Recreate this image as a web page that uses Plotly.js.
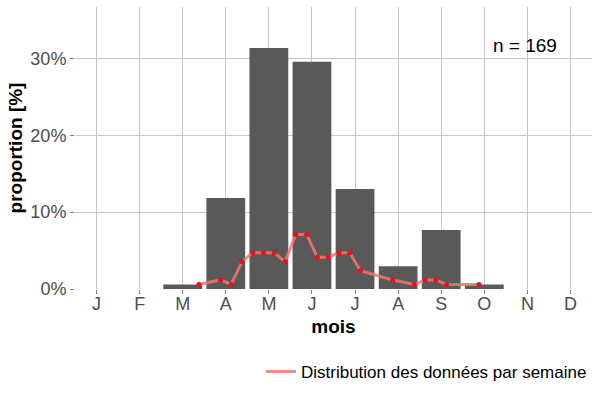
<!DOCTYPE html>
<html>
<head>
<meta charset="utf-8">
<script src="https://cdn.plot.ly/plotly-3.0.1.min.js"></script>
<style>
  body { margin: 0; }
  #chart { width: 600px; height: 400px; }
</style>
</head>
<body>
<div id="chart"></div>
<script>
// Monthly categories and their share of observations (%)
let months = ["J", "F", "M", "A", "M", "J", "J", "A", "S", "O", "N", "D"];
let monthPos = [1, 2, 3, 4, 5, 6, 7, 8, 9, 10, 11, 12];
let monthShare = [0, 0, 0.59, 11.83, 31.36, 29.59, 13.02, 2.96, 7.69, 0.59, 0, 0];

// Weekly distribution (week number, 4 weeks per month) and share (%)
let weeks = [12, 14, 15, 16, 17, 18, 19, 20, 21, 22, 23, 24, 25, 26, 27, 30, 32, 33, 34, 35, 38];
let weekShare = [0.59, 1.18, 0.59, 3.55, 4.73, 4.73, 4.73, 3.55, 7.10, 7.10, 4.14, 4.14,
                 4.73, 4.73, 2.37, 1.18, 0.59, 1.18, 1.18, 0.59, 0.59];

let nObs = 169;

// place each week inside its month on the month axis
let weekPos = weeks.map(w => 0.375 + w / 4);

let bars = {
    x: monthPos,
    y: monthShare,
    type: "bar",
    width: 0.9,
    marker: {color: "#595959"},
    showlegend: false,
    hoverinfo: "skip"
};

let weekLine = {
    x: weekPos,
    y: weekShare,
    type: "scatter",
    mode: "lines",
    name: "Distribution des données par semaine",
    line: {color: "rgba(242, 118, 110, 0.85)", width: 3}
};

let weekDots = {
    x: weekPos,
    y: weekShare,
    type: "scatter",
    mode: "markers",
    marker: {color: "#E8101C", size: 5},
    showlegend: false
};

let layout = {
    width: 600,
    height: 400,
    margin: {l: 75, r: 8, t: 7, b: 111, autoexpand: false},
    paper_bgcolor: "white",
    plot_bgcolor: "white",
    font: {family: "Liberation Sans, Arial, sans-serif", color: "#4D4D4D"},
    xaxis: {
        range: [0.5, 12.5],
        tickvals: monthPos,
        ticktext: months,
        tickfont: {size: 18, color: "#4D4D4D"},
        ticks: "outside",
        ticklen: 4,
        tickcolor: "#7F7F7F",
        ticklabelstandoff: -6,
        showgrid: true,
        gridcolor: "#C8C8C8",
        gridwidth: 1,
        zeroline: false,
        showline: false,
        title: {text: "<b>mois</b>", font: {size: 19, color: "black"}, standoff: 7}
    },
    yaxis: {
        range: [0, 36.7],
        tickvals: [0, 10, 20, 30],
        ticktext: ["0%", "10%", "20%", "30%"],
        tickfont: {size: 18, color: "#4D4D4D"},
        ticks: "outside",
        ticklen: 4,
        tickcolor: "#7F7F7F",
        showgrid: true,
        gridcolor: "#C8C8C8",
        gridwidth: 1,
        zeroline: false,
        showline: false,
        title: {text: "<b>proportion [%]</b>", font: {size: 19, color: "black"}, standoff: 2}
    },
    legend: {
        orientation: "h",
        x: 1,
        xanchor: "right",
        y: -0.294,
        yanchor: "middle",
        font: {size: 17, color: "black"},
        itemwidth: 30
    },
    annotations: [{
        x: 10.95,
        y: 31.75,
        xref: "x",
        yref: "y",
        text: "n = " + nObs,
        showarrow: false,
        font: {size: 19, color: "black"}
    }]
};

Plotly.newPlot("chart", [bars, weekLine, weekDots], layout, {displayModeBar: false});
</script>
</body>
</html>
